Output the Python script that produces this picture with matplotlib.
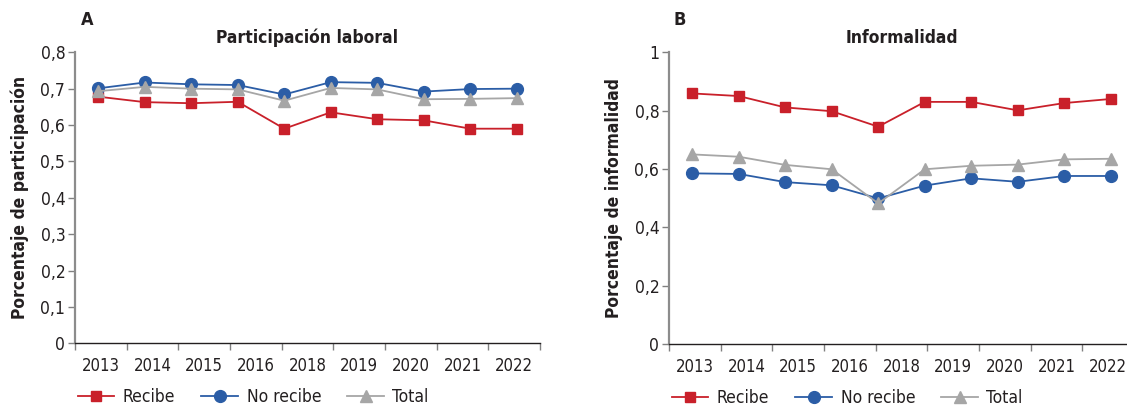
import numpy as np
import matplotlib
matplotlib.use("Agg")
import matplotlib.pyplot as plt
from matplotlib.ticker import FixedLocator, NullFormatter

plt.rcParams['font.family'] = ['DejaVu Sans']
plt.rcParams['font.stretch'] = 'condensed'

# Data (10 points per series, 9 tick labels as in the original)
years = ["2013", "2014", "2015", "2016", "2018", "2019", "2020", "2021", "2022"]

part_recibe = [0.678, 0.663, 0.660, 0.664, 0.590, 0.635, 0.616, 0.613, 0.590, 0.590]
part_no_recibe = [0.701, 0.717, 0.712, 0.710, 0.684, 0.718, 0.716, 0.692, 0.699, 0.700]
part_total = [0.693, 0.705, 0.700, 0.698, 0.667, 0.702, 0.698, 0.671, 0.672, 0.674]

inf_recibe = [0.859, 0.850, 0.811, 0.798, 0.745, 0.830, 0.830, 0.801, 0.826, 0.840]
inf_no_recibe = [0.585, 0.583, 0.555, 0.544, 0.499, 0.543, 0.568, 0.556, 0.576, 0.576]
inf_total = [0.650, 0.642, 0.614, 0.599, 0.482, 0.599, 0.611, 0.615, 0.633, 0.635]

red = "#C9202A"
blue = "#2B5DA6"
gray = "#A6A6A6"
txt = "#231F20"

W, H = 1127, 407
fig = plt.figure(figsize=(W / 100, H / 100), dpi=100)

axA = fig.add_axes([75 / W, 1 - 343.3 / H, 465 / W, 291 / H])
axB = fig.add_axes([669 / W, 1 - 344 / H, 465 / W, 291.7 / H])


def draw(ax, recibe, no_recibe, total, ymax, ystep, title, ylabel, letter, letter_x):
    n = len(recibe)
    x = np.arange(n)
    l1, = ax.plot(x, recibe, color=red, lw=1.3, marker="s", ms=7.5, label="Recibe")
    l2, = ax.plot(x, no_recibe, color=blue, lw=1.3, marker="o", ms=8.5, label="No recibe")
    l3, = ax.plot(x, total, color=gray, lw=1.3, marker="^", ms=9, label="Total")

    ax.set_xlim(-0.5, n - 0.5)
    ax.set_ylim(0, ymax)

    # category boundaries for the 9 labels spread over the axis
    k = len(years)
    edges = np.linspace(-0.5, n - 0.5, k + 1)
    centers = (edges[:-1] + edges[1:]) / 2
    ax.xaxis.set_major_locator(FixedLocator(edges))
    ax.xaxis.set_major_formatter(NullFormatter())
    ax.set_xticks(centers, minor=True)
    ax.set_xticklabels(years, minor=True)
    ax.tick_params(axis="x", which="major", length=5, color="#808080", width=1)
    ax.tick_params(axis="x", which="minor", length=0, pad=10, labelsize=12, labelcolor=txt)

    yt = np.round(np.arange(0, ymax + 1e-9, ystep), 2)
    ax.set_yticks(yt)
    ax.set_yticklabels([("%g" % v).replace(".", ",") for v in yt])
    ax.tick_params(axis="y", length=5, color="#808080", width=1, labelsize=12.5,
                   labelcolor=txt, pad=2)

    for s in ["top", "right"]:
        ax.spines[s].set_visible(False)
    ax.spines["left"].set_color("#8C8C8C")
    ax.spines["left"].set_linewidth(1.6)
    ax.spines["bottom"].set_color(txt)
    ax.spines["bottom"].set_linewidth(1.0)

    ax.set_title(title, fontsize=12.5, fontweight="bold", pad=7, color=txt)
    ax.set_ylabel(ylabel, fontsize=12.5, fontweight="bold", labelpad=8, color=txt)
    fig.text(letter_x / W, 1 - 20 / H, letter, fontsize=13, fontweight="bold",
             ha="center", va="center", color=txt)

    ax.legend(handles=[l1, l2, l3], loc="center left", bbox_to_anchor=(0.006, -0.185),
              ncol=3, frameon=False, fontsize=12.5, handlelength=2.1, handletextpad=0.5,
              columnspacing=1.5, borderpad=0, borderaxespad=0, labelcolor=txt)


draw(axA, part_recibe, part_no_recibe, part_total, 0.8, 0.1,
     "Participación laboral", "Porcentaje de participación", "A", 87)
draw(axB, inf_recibe, inf_no_recibe, inf_total, 1.0, 0.2,
     "Informalidad", "Porcentaje de informalidad", "B", 680)

fig.savefig("out.png", dpi=100)
